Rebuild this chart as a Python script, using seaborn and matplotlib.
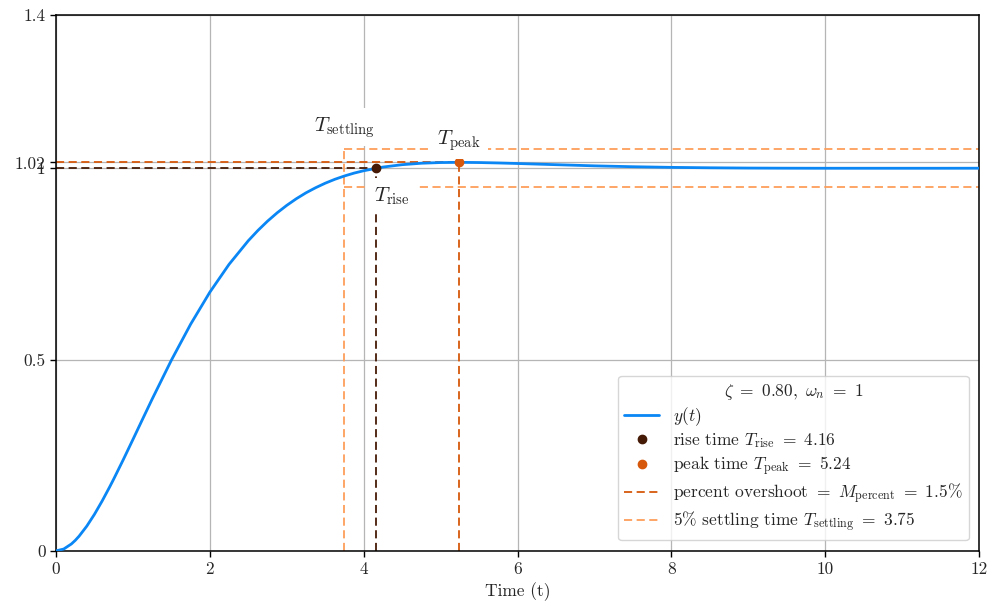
# step response of a second order system, zeta = 0.8, wn = 1
import numpy as np
import pandas as pd
import matplotlib
matplotlib.use('Agg')
import matplotlib.pyplot as plt
import seaborn as sns
from matplotlib.lines import Line2D

# values
t = [0, 0.1, 0.2, 0.25, 0.3, 0.4, 0.5, 0.6, 0.7, 0.75, 0.875, 1.0, 1.125, 1.25, 1.5,
     1.75, 2.0, 2.25, 2.5, 2.625, 2.75, 2.875, 3.0, 3.125, 3.25, 3.375, 3.5, 3.625,
     3.75, 3.875, 4.0, 4.25, 4.5, 4.75, 5.0, 5.25, 5.5, 5.75, 6.0, 6.5, 7.0, 7.5, 8.0,
     8.5, 9.0, 9.5, 10.0, 10.5, 11.0, 11.5, 12.0]
y = [0, 0.0047, 0.0180, 0.0273, 0.0383, 0.0645, 0.0955, 0.1303, 0.1679, 0.1875, 0.2384,
     0.2909, 0.3439, 0.3965, 0.4982, 0.5921, 0.6759, 0.7487, 0.8104, 0.8372, 0.8615,
     0.8833, 0.9028, 0.9202, 0.9356, 0.9489, 0.9607, 0.9709, 0.9796, 0.9871, 0.9933,
     1.0029, 1.0091, 1.0129, 1.0147, 1.0152, 1.0147, 1.0136, 1.0122, 1.0091, 1.0061,
     1.0038, 1.0021, 1.0010, 1.0003, 0.99995, 0.9998, 0.9998, 0.9998, 0.9998, 0.9999]

t_rise = 4.16
t_peak = 5.24
y_peak = 1.0152
t_settling = 3.75
band = 0.05
yticks = [0, 0.5, 1, y_peak, 1.4]
yticklabels = ['0', '0.5', '1', '1.02', '1.4']
xticks = [0, 2, 4, 6, 8, 10, 12]

c_line = '#0a86f5'
c_rise = '#451a06'
c_peak = '#d6580c'
c_settle = '#fd9e5a'

sns.set_style('white')
plt.rcParams['font.family'] = 'serif'
plt.rcParams['font.serif'] = ['cmr10']
plt.rcParams['mathtext.fontset'] = 'cm'
plt.rcParams['axes.formatter.use_mathtext'] = True
plt.rcParams['font.size'] = 12.5

df = pd.DataFrame({'t': t, 'y': y})

fig, ax = plt.subplots(figsize=(10, 6.04), dpi=100)
fig.subplots_adjust(left=0.056, right=0.979, bottom=0.088, top=0.975)

ax.grid(True, color='#b5b5b5', linewidth=0.9, zorder=0)

dash = dict(ls='--', lw=1.3, dashes=(4.5, 2.5))
# settling band
ax.plot([t_settling, t_settling], [0, 1 + band], color=c_settle, zorder=2, **dash)
ax.plot([t_settling, 12], [1 + band, 1 + band], color=c_settle, zorder=2, **dash)
ax.plot([t_settling, 12], [1 - band, 1 - band], color=c_settle, zorder=2, **dash)
# rise
ax.plot([0, t_rise], [1, 1], color=c_rise, zorder=2, **dash)
ax.plot([t_rise, t_rise], [0, 1], color=c_rise, zorder=2, **dash)
# peak / overshoot
ax.plot([0, t_peak], [y_peak, y_peak], color=c_peak, zorder=2, **dash)
ax.plot([t_peak, t_peak], [0, y_peak], color=c_peak, zorder=2, **dash)

sns.lineplot(data=df, x='t', y='y', color=c_line, lw=2, ax=ax, zorder=3)
ax.plot([t_rise], [1], 'o', color=c_rise, ms=6, zorder=4)
ax.plot([t_peak], [y_peak], 'o', color=c_peak, ms=6, zorder=4)

box = dict(facecolor='white', edgecolor='none', pad=5)
ax.text(t_settling, 1.107, r'$T_{\mathrm{settling}}$', ha='center', va='center',
        fontsize=15, bbox=box, zorder=5)
ax.text(t_peak, 1.073, r'$T_{\mathrm{peak}}$', ha='center', va='center',
        fontsize=15, bbox=box, zorder=5)
ax.text(4.37, 0.927, r'$T_{\mathrm{rise}}$', ha='center', va='center',
        fontsize=15, bbox=box, zorder=5)

ax.set_xlim(0, 12)
ax.set_ylim(0, 1.4)
ax.set_xticks(xticks)
ax.set_xticklabels([str(v) for v in xticks])
ax.set_yticks(yticks)
ax.set_yticklabels(yticklabels)
ax.tick_params(axis='both', direction='out', length=4, width=1, color='black',
               bottom=True, left=True, labelsize=12.5)
for s in ax.spines.values():
    s.set_color('black')
    s.set_linewidth(1.1)
ax.set_xlabel('Time (t)', fontsize=12.5)
ax.set_ylabel('')

handles = [
    Line2D([], [], color=c_line, lw=2),
    Line2D([], [], marker='o', color=c_rise, ls='none', ms=6),
    Line2D([], [], marker='o', color=c_peak, ls='none', ms=6),
    Line2D([], [], color=c_peak, **dash),
    Line2D([], [], color=c_settle, **dash),
]
labels = [
    r'$y(t)$',
    r'rise time $T_{\mathrm{rise}}\ =\ 4.16$',
    r'peak time $T_{\mathrm{peak}}\ =\ 5.24$',
    r'percent overshoot $=\ M_{\mathrm{percent}}\ =\ 1.5\%$',
    r'5% settling time $T_{\mathrm{settling}}\ =\ 3.75$',
]
ax.legend(handles, labels, loc='lower right', title=r'$\zeta\ =\ 0.80,\ \omega_n\ =\ 1$',
          fontsize=12.5, title_fontsize=12.5, frameon=True, framealpha=0.8,
          edgecolor='#cccccc', fancybox=True, labelspacing=0.2, borderaxespad=0.6,
          borderpad=0.35)

fig.savefig('out.png', dpi=100)
